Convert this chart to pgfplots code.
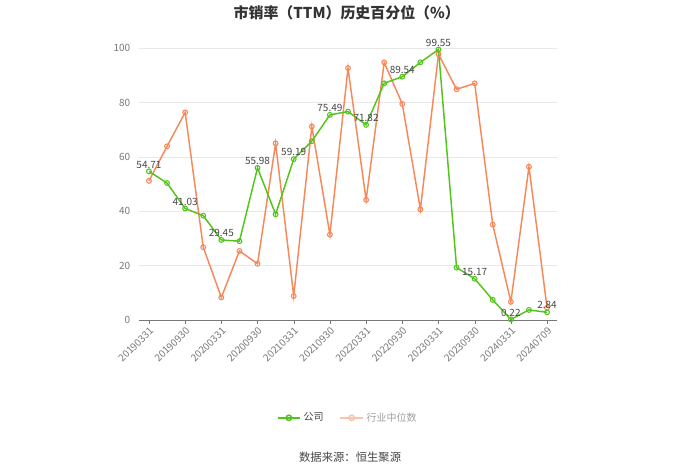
\documentclass[border=0pt]{standalone}
\usepackage{pgfplots}
\pgfplotsset{compat=1.18}
\usepackage{fontspec}
\setmainfont{Noto Sans CJK SC}
\definecolor{cgreen}{RGB}{82,196,26}
\definecolor{corange}{RGB}{247,136,90}
\definecolor{corangel}{RGB}{250,195,172}
\definecolor{tickgray}{RGB}{120,120,120}
\definecolor{labgray}{RGB}{70,70,70}

\pgfplotstableread{
x y
0 54.71
1 50.4
2 41.03
3 38.4
4 29.45
5 29.0
6 55.98
7 38.9
8 59.19
9 65.8
10 75.49
11 76.7
12 71.82
13 87.1
14 89.54
15 94.8
16 99.55
17 19.3
18 15.17
19 7.4
20 0.22
21 3.7
22 2.84
}\company

\pgfplotstableread{
x y
0 54.71
2 41.03
4 29.45
6 55.98
8 59.19
10 75.49
12 71.82
14 89.54
16 99.55
18 15.17
20 0.22
22 2.84
}\companylab

\pgfplotstableread{
x y
0 51.2
1 63.9
2 76.4
3 26.8
4 8.3
5 25.4
6 20.7
7 65.0
8 8.8
9 71.2
10 31.4
11 92.7
12 44.2
13 94.8
14 79.5
15 40.7
16 97.8
17 84.9
18 87.1
19 35.1
20 6.7
21 56.4
22 4.5
}\industry

\begin{document}
\begin{tikzpicture}
\begin{axis}[name=ax, at={(0,0)}, anchor=south west,
  scale only axis, width=313.5pt, height=203.8pt,
  clip=false,
  /pgf/number format/assume math mode=true,
  xmin=-0.55, xmax=22.55, ymin=0, ymax=100,
  axis x line=bottom, axis y line=left,
  axis line style={-},
  x axis line style={draw=tickgray},
  y axis line style={draw=none},
  xtick={0,2,...,22},
  xticklabels={20190331,20190930,20200331,20200930,20210331,20210930,20220331,20220930,20230331,20230930,20240331,20240709},
  x tick label style={rotate=45, anchor=north east, font=\fontsize{7.5}{8}\selectfont, text=tickgray, inner sep=1pt},
  xtick style={draw=tickgray},
  tick align=outside, major tick length=3pt,
  ytick={0,20,...,100},
  ytick style={draw=none},
  y tick label style={font=\fontsize{7.5}{8}\selectfont, text=tickgray},
  ymajorgrids, grid style={draw=gray!18, line width=0.6pt},
  legend style={at={(0.5,-0.36)}, anchor=center, draw=none, legend columns=2,
    font=\fontsize{7.5}{9}\selectfont, /tikz/every even column/.append style={column sep=10pt}},
  legend cell align=left,
  every axis plot/.append style={line width=1.1pt, mark=o, mark size=1.8pt, mark options={fill=white, line width=0.8pt}},
]
\addplot[corange, forget plot] table {\industry};
\addplot[cgreen, forget plot] table {\company};
\addplot[draw=none, mark=none, forget plot, nodes near coords, point meta=explicit,
  nodes near coords style={font=\fontsize{7.5}{8}\selectfont, text=labgray, anchor=south, inner sep=2pt, /pgf/number format/fixed, /pgf/number format/precision=2, /pgf/number format/fixed zerofill, /pgf/number format/assume math mode=true}]
  table[meta=y] {\companylab};
\addlegendimage{cgreen, line width=1.1pt, mark=o, mark size=2pt, mark options={fill=white}}
\addlegendentry{\textcolor{labgray}{公司}}
\addlegendimage{corangel, line width=1.1pt, mark=o, mark size=2pt, mark options={fill=white}}
\addlegendentry{\textcolor{tickgray!70}{行业中位数}}
\node[font=\bfseries\fontsize{11.2}{13}\selectfont, text=black!80] at (rel axis cs:0.497,1.1325) {市销率（TTM）历史百分位（\%）};
\node[font=\fontsize{8.5}{10}\selectfont, text=labgray] at (rel axis cs:0.505,-0.504) {数据来源：恒生聚源};
\end{axis}
\pgfresetboundingbox
\path[use as bounding box] ([xshift=-104.25pt,yshift=-115.5pt]ax.south west) rectangle ++(525pt,355.5pt);
\end{tikzpicture}
\end{document}
